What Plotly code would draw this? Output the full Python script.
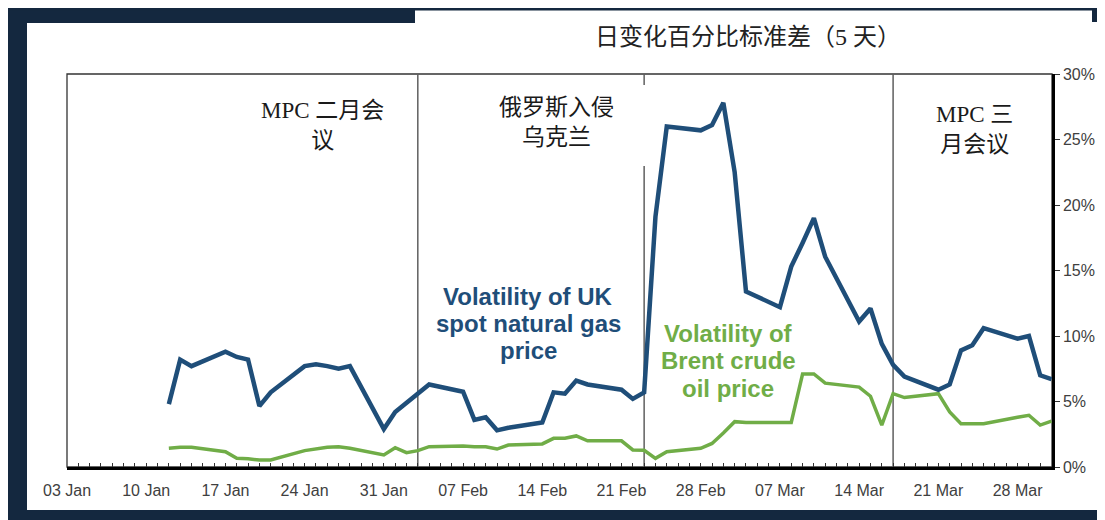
import pandas as pd
import plotly.graph_objects as go

# business days covered by both series (12 Jan - 31 Mar 2022)
dates = pd.bdate_range("2022-01-12", "2022-03-31")

# 5-day standard deviation of daily % changes, in %
gas_vol = [4.8, 8.2, 7.7, 8.8, 8.4, 8.2, 4.65, 5.7, 7.7, 7.85, 7.7, 7.5, 7.7, 2.9,
           4.2, 4.9, 5.6, 6.3, 5.75, 3.6, 3.8, 2.8, 3.0, 3.4, 5.7, 5.6, 6.6, 6.3,
           5.9, 5.2, 5.7, 19.1, 26.0, 25.7,
           26.1, 27.8, 22.5, 13.4, 12.2, 15.3, 17.1, 19.0, 16.05, 11.1, 12.1, 9.4,
           7.8, 6.9, 5.9, 6.3, 8.9, 9.3, 10.6, 9.8, 10.0, 7.0, 6.7]
oil_vol = [1.43, 1.5, 1.5, 1.17, 0.66, 0.63, 0.53, 0.53, 1.25, 1.37, 1.5, 1.55, 1.43, 0.92,
           1.47, 1.09, 1.25, 1.55, 1.6, 1.55, 1.55, 1.37, 1.68, 1.76, 2.19, 2.19, 2.37, 2.0,
           2.0, 1.3, 1.28, 0.66, 1.17, 1.43,
           1.8, 2.6, 3.46, 3.4, 3.4, 3.4, 7.1, 7.1, 6.4, 6.1, 5.4, 3.2,
           5.6, 5.3, 5.6, 4.2, 3.3, 3.3, 3.3, 3.8, 3.95, 3.2, 3.5]

event_dates = ["2022-02-03", "2022-02-23", "2022-03-17"]
event_labels = ["MPC 二月会<br>议", "俄罗斯入侵<br>乌克兰", "MPC 三<br>月会议"]
title_text = "日变化百分比标准差（5 天）"
gas_label = ["Volatility of UK", "spot natural gas", "price"]
oil_label = ["Volatility of", "Brent crude", "oil price"]

# page is 1105x520, the figure sits 8px in from the top-left (body margin)
OFF = 8
W, H = 1105 - 2 * OFF, 520 - OFF
L, R, T, B = 67, 1052, 74, 467   # plot area in page pixels
NAVY = "#14283f"
BLUE = "#1f4e79"
GREEN = "#70ad47"
CJK = "Liberation Serif, Noto Sans CJK SC"
SANS = "Liberation Sans, Arial"


def px(x):
    return (x - L) / (R - L)


def py(y):
    return (B - y) / (B - T)


fig = go.Figure()
fig.add_trace(go.Scatter(x=dates, y=oil_vol, mode="lines",
                         line=dict(color=GREEN, width=3.5), showlegend=False))
fig.add_trace(go.Scatter(x=dates, y=gas_vol, mode="lines",
                         line=dict(color=BLUE, width=4.5), showlegend=False))

shapes = []
# navy frame around the picture
for x0, y0, x1, y1 in [(8, 8, 27, 520), (8, 8, 415, 23), (8, 8, 1105, 10.5),
                       (1092, 8, 1105, 22), (8, 510, 1105, 520)]:
    shapes.append(dict(type="rect", xref="paper", yref="paper",
                       x0=px(x0), x1=px(x1), y0=py(y1), y1=py(y0),
                       fillcolor=NAVY, line=dict(width=0), layer="below"))
# plot border (top / left)
shapes.append(dict(type="rect", xref="paper", yref="paper", x0=0, x1=1, y0=0, y1=1,
                   line=dict(color="#333333", width=1.3), layer="below"))
# event lines
for i, d in enumerate(event_dates):
    segs = [(0, 1)] if i != 1 else [(0, py(166)), (py(85), 1)]
    for a, b in segs:
        shapes.append(dict(type="line", xref="x", yref="paper", x0=d, x1=d, y0=a, y1=b,
                           line=dict(color="#5f5f5f", width=1.5), layer="below"))

annotations = [
    dict(text=title_text, x=px(748), y=py(37), font=dict(size=24, color="#222222", family=CJK)),
    dict(text=event_labels[0], x=px(322), y=py(126), font=dict(size=23, color="#1a1a1a", family=CJK)),
    dict(text=event_labels[1], x=px(556), y=py(123), font=dict(size=23, color="#1a1a1a", family=CJK)),
    dict(text=event_labels[2], x=px(974), y=py(129), font=dict(size=23, color="#1a1a1a", family=CJK)),
]
for line, y in zip(gas_label, [296, 323, 350]):
    annotations.append(dict(text="<b>%s</b>" % line, x=px(528), y=py(y),
                            font=dict(size=24, color=BLUE, family=SANS)))
for line, y in zip(oil_label, [333, 361, 388]):
    annotations.append(dict(text="<b>%s</b>" % line, x=px(728), y=py(y),
                            font=dict(size=24, color=GREEN, family=SANS)))
for a in annotations:
    a.update(xref="paper", yref="paper", showarrow=False, xanchor="center", yanchor="middle", align="center")

fig.update_layout(
    width=W, height=H,
    margin=dict(l=L - OFF, r=W + OFF - R, t=T - OFF, b=H + OFF - B, autoexpand=False),
    paper_bgcolor="white", plot_bgcolor="white",
    shapes=shapes, annotations=annotations,
    font=dict(family=SANS, size=16, color="#404040"),
    xaxis=dict(type="date", range=["2022-01-03", "2022-03-31 01:00"],
               tick0="2022-01-03", dtick=7 * 86400000, tickformat="%d %b",
               showgrid=False, zeroline=False, showline=True, linecolor="black", linewidth=2.5,
               ticks="inside", ticklen=4, tickcolor="#333333", ticklabelstandoff=7,
               minor=dict(dtick=86400000, ticks="inside", ticklen=4, tickcolor="#333333"),
               tickfont=dict(size=16, color="#404040")),
    yaxis=dict(range=[0, 30], dtick=5, ticksuffix="%", side="right",
               showgrid=False, zeroline=False, showline=True, linecolor="black", linewidth=2.5,
               ticks="outside", ticklen=5, tickcolor="#333333", ticklabelstandoff=0,
               tickfont=dict(size=16, color="#404040")),
)

fig.write_html("out.html")
